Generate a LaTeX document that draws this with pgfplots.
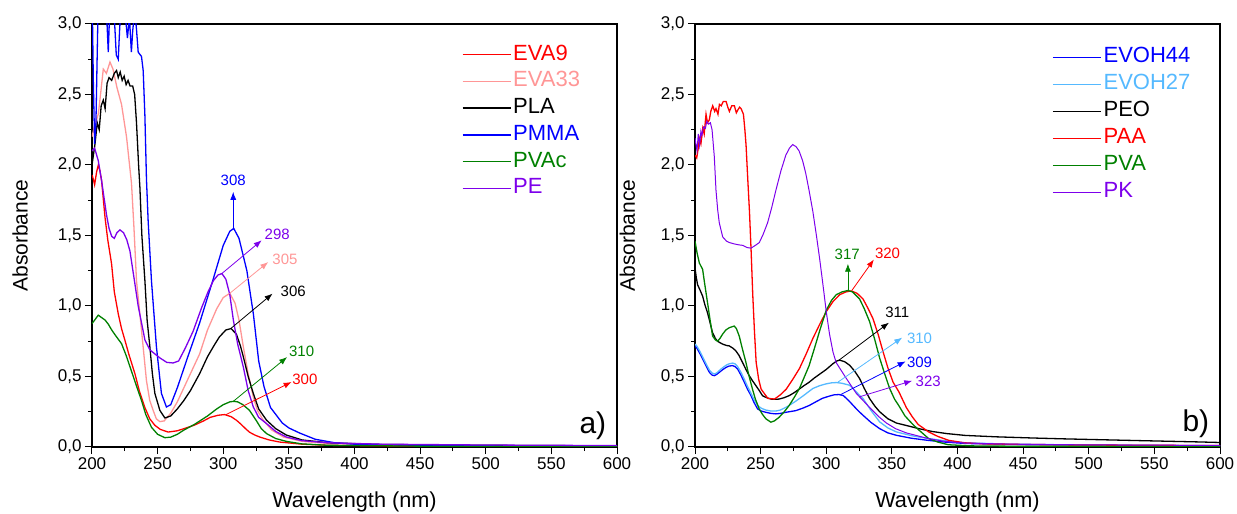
\documentclass[border=0pt]{standalone}
\usepackage{pgfplots}
\pgfplotsset{compat=1.18}
\usepackage{fontspec}
\setmainfont{Liberation Sans}
\usetikzlibrary{arrows.meta}
\definecolor{cred}{RGB}{255,0,0}
\definecolor{cpink}{RGB}{255,150,150}
\definecolor{cblue}{RGB}{0,0,255}
\definecolor{cgreen}{RGB}{0,128,0}
\definecolor{cpurple}{RGB}{125,0,235}
\definecolor{clblue}{RGB}{85,185,255}
\tikzset{
  ann/.style={-{Latex[length=8pt,width=6pt]}, line width=0.8pt},
  annt/.style={font=\fontsize{15}{18}\selectfont, inner sep=0pt},
}
\pgfplotsset{
  myaxis/.style={
    scale only axis, width=525pt, height=423pt,
    anchor=south west,
    xmin=200, xmax=600, ymin=0, ymax=3,
    xtick={200,250,...,600}, ytick={0,0.5,...,3},
    minor x tick num=1, minor y tick num=1,
    tick align=outside, xtick pos=bottom, ytick pos=left,
    major tick length=7pt, minor tick length=4pt,
    axis line style={line width=1.1pt},
    every tick/.style={line width=1.0pt, black},
    tick label style={font=\fontsize{17}{20}\selectfont},
    /pgf/number format/assume math mode=true,
    yticklabel style={/pgf/number format/.cd, fixed, fixed zerofill, precision=1, use comma},
    xticklabel style={/pgf/number format/.cd, fixed, precision=0},
    label style={font=\fontsize{21}{25}\selectfont},
    xlabel={Wavelength (nm)},
    ylabel={Absorbance},
    xlabel style={at={(axis description cs:0.5,-0.130)}, anchor=center, font=\fontsize{21.7}{26}\selectfont},
    legend cell align=left,
    legend image code/.code={\draw[##1, line width=1.4pt] (0pt,0pt) -- (48pt,0pt);},
    every axis plot/.append style={line width=1.3pt, mark=none},
  },
}
\begin{document}
\begin{tikzpicture}
\useasboundingbox (0pt,0pt) rectangle (1237pt,514pt);
% ---------------- left panel -----------------
\begin{axis}[myaxis, at={(92pt,67pt)},
  ylabel style={at={(axis description cs:-0.137,0.5)}, anchor=center},
  legend style={at={(rel axis cs:0.704,0.955)}, anchor=north west, draw=none, fill=none,
    inner sep=0pt, font=\fontsize{22}{26}\selectfont, row sep=3.7pt,
    nodes={text height=15pt, text depth=4pt, inner sep=2pt}},
]
\addplot[cred] coordinates {(200,1.93)(201,1.9)(202,1.86)(203.5,1.95)(204.8,2.0)(206,1.96)(207.3,1.89)(209.9,1.63)(212,1.47)(214.9,1.30)(217,1.1)(220,0.945)(222.5,0.84)(225,0.76)(228,0.66)(232.7,0.52)(236,0.4)(240.3,0.28)(244,0.2)(247.9,0.154)(252,0.125)(258,0.106)(265,0.115)(270,0.13)(278,0.155)(285,0.185)(290,0.21)(296,0.225)(301,0.23)(306,0.215)(310,0.19)(313,0.166)(317,0.13)(320,0.105)(324,0.085)(328,0.07)(335,0.05)(343,0.035)(360,0.02)(380,0.012)(450,0.006)(600,0.004)};
\addlegendentry{\textcolor{cred}{EVA9}}
\addplot[cpink] coordinates {(200,2.2)(202,2.28)(204.8,2.36)(206.5,2.5)(208.6,2.68)(211,2.65)(213.7,2.73)(216,2.68)(219,2.55)(222.5,2.43)(226.3,2.2)(230.1,1.87)(232,1.55)(233.9,1.18)(237.7,0.83)(241.5,0.47)(244,0.33)(246.6,0.26)(249,0.2)(251.7,0.18)(255,0.185)(260,0.24)(265,0.32)(270,0.42)(276,0.54)(282,0.66)(288,0.83)(295,0.98)(300,1.06)(305,1.09)(309,1.02)(312,0.9)(315.3,0.71)(319,0.52)(322.9,0.355)(326,0.26)(330.5,0.19)(337,0.12)(346,0.07)(360,0.04)(380,0.025)(420,0.015)(500,0.01)(600,0.006)};
\addlegendentry{\textcolor{cpink}{EVA33}}
\addplot[black] coordinates {(200,2.0)(202.3,2.15)(204,2.3)(205.5,2.25)(207,2.42)(208.6,2.46)(210,2.4)(211.5,2.58)(213,2.62)(215,2.6)(217,2.65)(218.7,2.67)(220,2.62)(221.5,2.66)(223,2.6)(224.5,2.63)(226,2.57)(227.5,2.6)(229,2.56)(231,2.56)(232.5,2.5)(233.9,2.3)(235.5,2.0)(236.5,1.84)(238,1.5)(240.3,1.18)(242,0.9)(244.1,0.71)(246,0.52)(247.9,0.38)(251.7,0.26)(255.5,0.206)(260,0.22)(265,0.27)(270,0.33)(275,0.4)(282,0.52)(288,0.64)(293,0.72)(297,0.78)(302,0.83)(306,0.84)(310,0.8)(313,0.72)(315.3,0.64)(319,0.5)(322.9,0.38)(327,0.27)(333,0.19)(340,0.13)(348,0.085)(360,0.05)(380,0.03)(420,0.018)(500,0.012)(600,0.008)};
\addlegendentry{PLA}
\addplot[cblue] coordinates {(200,3.3)(201,2.6)(202,2.15)(203,2.3)(204,2.8)(205,3.3)(208,3.4)(211,3.1)(212.4,2.8)(213.5,3.1)(215,3.3)(217,3.05)(218.5,2.78)(220,2.75)(221,2.95)(222.5,3.2)(225,3.1)(227,2.9)(228.5,3.05)(230,2.8)(231,2.95)(232.6,3.1)(234,2.95)(235.2,2.8)(237.7,2.77)(239,2.67)(240.3,2.35)(241.5,1.9)(242.8,1.6)(245.3,1.18)(249.1,0.71)(252.9,0.38)(256.7,0.284)(260,0.3)(265,0.42)(273,0.64)(282,0.88)(292,1.18)(300,1.43)(305,1.53)(308,1.55)(312,1.48)(318,1.25)(323,0.94)(327,0.61)(331,0.43)(336,0.28)(345,0.17)(350,0.135)(358,0.1)(370,0.055)(385,0.03)(400,0.02)(450,0.012)(500,0.008)(600,0.005)};
\addlegendentry{\textcolor{cblue}{PMMA}}
\addplot[cgreen] coordinates {(200,0.875)(202,0.9)(204.8,0.935)(207,0.92)(210,0.9)(212.5,0.87)(215,0.83)(218,0.79)(222.5,0.733)(226,0.65)(230,0.54)(234,0.43)(237.7,0.33)(241,0.23)(245.3,0.14)(250,0.09)(255.5,0.066)(260,0.07)(265,0.09)(270,0.12)(278,0.16)(288,0.22)(295,0.27)(300,0.3)(305,0.32)(308,0.324)(311,0.32)(315,0.3)(320,0.26)(325,0.19)(329,0.13)(333,0.095)(340,0.06)(348,0.04)(360,0.022)(380,0.012)(450,0.006)(600,0.004)};
\addlegendentry{\textcolor{cgreen}{PVAc}}
\addplot[cpurple] coordinates {(200,2.10)(202,2.12)(204.8,2.03)(207.3,1.89)(211,1.65)(213,1.55)(215,1.494)(217,1.48)(219,1.52)(221.3,1.54)(224,1.52)(226.5,1.47)(228.9,1.39)(232,1.2)(235.2,1.0)(240.3,0.76)(244,0.69)(247.9,0.66)(252,0.63)(257,0.6)(261.8,0.596)(266,0.61)(271,0.7)(277,0.82)(283.6,0.99)(288.4,1.10)(292.5,1.18)(296,1.22)(299,1.23)(302,1.19)(305,1.08)(307.7,0.9)(311,0.73)(315.3,0.567)(319,0.4)(322.9,0.284)(327,0.21)(333,0.166)(340,0.11)(348,0.071)(360,0.045)(380,0.03)(420,0.02)(500,0.014)(600,0.01)};
\addlegendentry{\textcolor{cpurple}{PE}}
% annotations
\draw[ann, cblue] (axis cs:307.6,1.55) -- (axis cs:307.6,1.81);
\node[annt, text=cblue] at (axis cs:307.6,1.89) {308};
\draw[ann, cpurple] (axis cs:298.9,1.23) -- (axis cs:329.3,1.466);
\node[annt, text=cpurple] at (axis cs:341.1,1.506) {298};
\draw[ann, cpink] (axis cs:304.7,1.088) -- (axis cs:334.3,1.312);
\node[annt, text=cpink] at (axis cs:347,1.331) {305};
\draw[ann, black] (axis cs:305.7,0.84) -- (axis cs:337.6,1.088);
\node[annt, text=black] at (axis cs:353.3,1.106) {306};
\draw[ann, cgreen] (axis cs:307.7,0.324) -- (axis cs:348.7,0.638);
\node[annt, text=cgreen] at (axis cs:359.7,0.679) {310};
\draw[ann, cred] (axis cs:302.1,0.23) -- (axis cs:352.1,0.461);
\node[annt, text=cred] at (axis cs:362.2,0.48) {300};
\node[font=\fontsize{30}{36}\selectfont, inner sep=0pt] at (rel axis cs:0.954,0.051) {a)};
\end{axis}
% ---------------- right panel -----------------
\begin{axis}[myaxis, at={(695pt,67pt)},
  ylabel style={at={(axis description cs:-0.129,0.5)}, anchor=center},
  legend style={at={(rel axis cs:0.68,0.949)}, anchor=north west, draw=none, fill=none,
    inner sep=0pt, font=\fontsize{22}{26}\selectfont, row sep=4pt,
    nodes={text height=15pt, text depth=4pt, inner sep=2pt}},
]
\addplot[cblue] coordinates {(200,0.717)(201.5,0.7)(203.3,0.67)(205,0.64)(207.1,0.6)(209,0.565)(211,0.529)(213,0.51)(214.8,0.506)(216.5,0.515)(218.6,0.53)(221,0.548)(223.7,0.565)(226,0.574)(228.7,0.577)(230.5,0.57)(232.5,0.553)(235,0.51)(237.6,0.459)(240,0.41)(242.7,0.364)(245,0.315)(247.7,0.27)(250.5,0.255)(254,0.246)(258,0.238)(261.6,0.235)(265,0.238)(269.2,0.246)(276.8,0.258)(282,0.275)(286.9,0.294)(292,0.32)(297,0.345)(302,0.36)(306,0.37)(309.7,0.372)(313,0.365)(317,0.33)(320.4,0.296)(324,0.26)(328,0.225)(334,0.175)(340.7,0.13)(347,0.1)(353.4,0.083)(365,0.062)(377.6,0.047)(390,0.035)(406,0.025)(440,0.018)(500,0.013)(600,0.008)};
\addlegendentry{\textcolor{cblue}{EVOH44}}
\addplot[clblue] coordinates {(200,0.73)(201.5,0.715)(203.3,0.685)(205,0.655)(207.1,0.615)(209,0.58)(211,0.545)(213,0.525)(214.8,0.518)(216.5,0.525)(218.6,0.543)(221,0.562)(223.7,0.58)(226,0.59)(228.7,0.595)(230.5,0.59)(232.5,0.57)(235,0.53)(237.6,0.48)(240,0.43)(242.7,0.38)(245,0.335)(247.7,0.294)(250.5,0.275)(254,0.262)(258,0.255)(261.6,0.255)(265,0.262)(270,0.285)(276,0.32)(282,0.36)(289.8,0.415)(295,0.435)(300,0.448)(304,0.455)(307.6,0.457)(312,0.452)(317.8,0.438)(322,0.4)(325,0.37)(328,0.344)(334,0.26)(340.7,0.178)(347,0.135)(353.4,0.107)(365,0.08)(377.6,0.06)(390,0.045)(406,0.03)(440,0.02)(500,0.014)(600,0.009)};
\addlegendentry{\textcolor{clblue}{EVOH27}}
\addplot[black] coordinates {(200,1.27)(201,1.2)(202,1.15)(203.5,1.12)(205.8,1.07)(207.5,1.01)(209.6,0.95)(211.5,0.88)(213.4,0.81)(215.5,0.77)(217.2,0.75)(219,0.74)(221,0.73)(224,0.72)(226.1,0.717)(229,0.7)(231.1,0.682)(233.5,0.65)(236.2,0.6)(238.8,0.55)(241.3,0.506)(243.8,0.47)(246.4,0.435)(249,0.4)(251.4,0.364)(254.5,0.35)(257.8,0.34)(261,0.338)(264.1,0.34)(268,0.35)(271.7,0.364)(275.5,0.385)(279.3,0.41)(283,0.435)(286.9,0.459)(291,0.49)(295.5,0.52)(300,0.55)(305,0.59)(308,0.61)(310.2,0.616)(314,0.605)(317.8,0.58)(321.5,0.54)(325.4,0.486)(329,0.415)(333,0.344)(337,0.29)(340.7,0.25)(347,0.2)(353.4,0.17)(360,0.155)(370.6,0.13)(380.7,0.11)(392,0.095)(406,0.082)(430,0.072)(456.7,0.064)(480,0.058)(507.5,0.052)(540,0.045)(583.5,0.036)(600,0.032)};
\addlegendentry{PEO}
\addplot[cred] coordinates {(200,2.07)(201.3,2.05)(202.5,2.12)(203.3,2.19)(204.5,2.15)(205.9,2.26)(207,2.22)(208.4,2.36)(209.5,2.3)(210.9,2.32)(212,2.38)(213.5,2.42)(215,2.38)(216,2.4)(217.5,2.36)(218.6,2.43)(220,2.42)(221.5,2.45)(223.7,2.45)(225,2.41)(226.2,2.38)(228,2.42)(230,2.42)(231.5,2.37)(232.6,2.39)(234,2.41)(235.1,2.4)(236.9,2.36)(238,2.25)(238.9,2.14)(240.2,1.9)(241.5,1.67)(242.8,1.38)(244,1.08)(245.3,0.82)(246.6,0.6)(248.5,0.48)(250.4,0.41)(255.5,0.345)(260.6,0.34)(265,0.37)(269.5,0.41)(274.5,0.48)(279.6,0.557)(284.7,0.66)(289.8,0.77)(295,0.87)(300,0.96)(305,1.03)(310.2,1.08)(315,1.1)(319.1,1.107)(323.5,1.09)(328,1.05)(332,0.98)(335.6,0.91)(339.5,0.8)(343.3,0.675)(347,0.56)(350.9,0.46)(355.4,0.39)(361,0.28)(365.5,0.215)(370,0.16)(378,0.107)(385,0.075)(393.4,0.047)(405,0.03)(418.7,0.023)(450,0.018)(500,0.014)(600,0.01)};
\addlegendentry{\textcolor{cred}{PAA}}
\addplot[cgreen] coordinates {(200,1.46)(201.5,1.38)(203.3,1.305)(205.8,1.26)(207.5,1.15)(209.6,1.02)(211.5,0.9)(213.4,0.787)(215.5,0.76)(217.2,0.75)(219,0.77)(221,0.80)(223.5,0.83)(226.1,0.846)(229.9,0.858)(231.5,0.84)(233.7,0.787)(236,0.7)(238.8,0.6)(241,0.51)(243.8,0.41)(246,0.34)(248.9,0.27)(251.5,0.23)(254,0.2)(257.8,0.176)(260.5,0.185)(264.1,0.211)(268,0.25)(271.7,0.294)(275.5,0.35)(279.3,0.41)(283,0.49)(286.9,0.576)(291,0.7)(295.5,0.84)(300,0.97)(304,1.04)(307.6,1.08)(312,1.1)(316.5,1.11)(320,1.1)(325.4,1.05)(329,0.98)(333,0.89)(337,0.76)(340.7,0.63)(344.5,0.52)(348.3,0.415)(352,0.34)(355.5,0.29)(360,0.22)(366,0.16)(370,0.125)(378,0.06)(385,0.035)(393,0.016)(410,0.008)(450,0.005)(600,0.004)};
\addlegendentry{\textcolor{cgreen}{PVA}}
\addplot[cpurple, line width=1.0pt] coordinates {(200,2.19)(201.5,2.1)(202.5,2.22)(203.5,2.14)(204.5,2.24)(205.3,2.21)(206.5,2.27)(207.9,2.26)(209,2.31)(210.4,2.29)(211.7,2.30)(213,2.25)(214.7,2.06)(216,1.82)(217.3,1.68)(218.5,1.59)(221.1,1.49)(224,1.46)(226.2,1.45)(230,1.44)(233.8,1.433)(236.5,1.43)(239.5,1.415)(242.6,1.41)(246,1.43)(249,1.45)(252,1.51)(255.3,1.59)(258.5,1.7)(261.6,1.82)(265.5,1.96)(269.2,2.07)(272,2.12)(274.4,2.145)(277,2.13)(279.3,2.1)(282,2.03)(284.4,1.94)(286.9,1.82)(289.8,1.67)(292.5,1.5)(294.9,1.34)(297.5,1.15)(300,0.96)(302.5,0.8)(305.1,0.675)(307.5,0.6)(310.2,0.56)(315.3,0.486)(322.9,0.38)(328,0.33)(333.1,0.28)(340,0.215)(345.8,0.17)(352.8,0.13)(361,0.1)(377.6,0.06)(390,0.04)(406,0.028)(440,0.02)(500,0.015)(600,0.011)};
\addlegendentry{\textcolor{cpurple}{PK}}
% annotations
\draw[ann, cgreen] (axis cs:316.5,1.11) -- (axis cs:316.5,1.30);
\node[annt, text=cgreen] at (axis cs:316,1.366) {317};
\draw[ann, cred] (axis cs:319.5,1.11) -- (axis cs:336.3,1.33);
\node[annt, text=cred] at (axis cs:346.7,1.371) {320};
\draw[ann, black] (axis cs:309.7,0.616) -- (axis cs:347.8,0.882);
\node[annt, text=black] at (axis cs:354.1,0.953) {311};
\draw[ann, clblue] (axis cs:308.4,0.457) -- (axis cs:357.9,0.776);
\node[annt, text=clblue] at (axis cs:371.1,0.769) {310};
\draw[ann, cblue] (axis cs:311,0.372) -- (axis cs:360.5,0.607);
\node[annt, text=cblue] at (axis cs:371.1,0.6) {309};
\draw[ann, cpurple] (axis cs:325,0.355) -- (axis cs:365.5,0.47);
\node[annt, text=cpurple] at (axis cs:377.7,0.466) {323};
\node[font=\fontsize{30}{36}\selectfont, inner sep=0pt] at (rel axis cs:0.954,0.056) {b)};
\end{axis}
\end{tikzpicture}
\end{document}
